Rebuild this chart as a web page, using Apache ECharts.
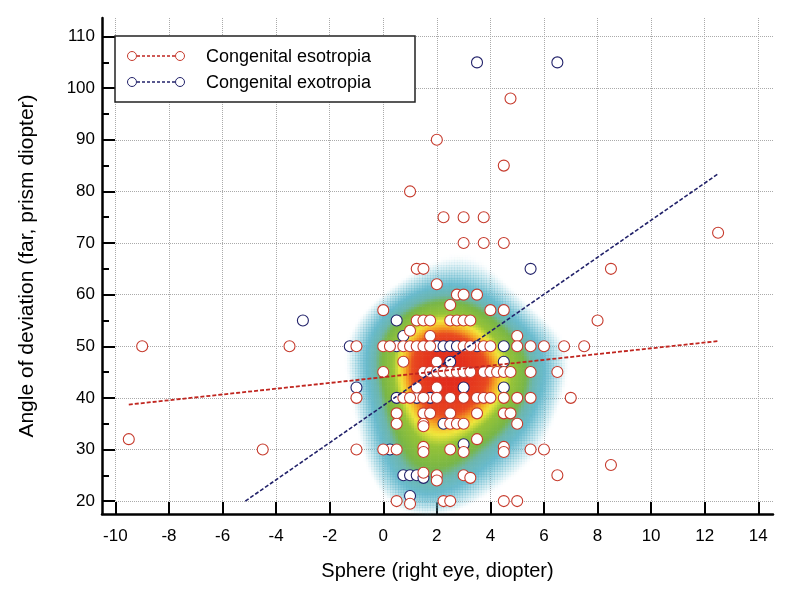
<!DOCTYPE html>
<html>
<head>
<meta charset="utf-8">
<script src="https://cdn.jsdelivr.net/npm/echarts@6/dist/echarts.min.js"></script>
<style>
  html, body { margin: 0; padding: 0; background: #fff; }
  #chart { width: 800px; height: 590px; }
</style>
</head>
<body>
<div id="chart"></div>
<script>
// congenital esotropia: [sphere, angle]
const esoPoints = [
  [4.75, 98], [2, 90], [4.5, 85], [1, 80], [2.25, 75], [3, 75], [3.75, 75],
  [3, 70], [3.75, 70], [4.5, 70], [12.5, 72], [1.25, 65], [1.5, 65], [8.5, 65],
  [2, 62], [2.75, 60], [3, 60], [3.5, 60], [2.5, 58], [0, 57], [4, 57], [4.5, 57], [8, 55],
  [1.25, 55], [1.5, 55], [1.75, 55], [2.5, 55], [2.75, 55], [3, 55], [3.25, 55],
  [1, 53], [1.75, 52], [5, 52],
  [-9, 50], [-3.5, 50], [-1, 50], [0, 50], [0.25, 50], [0.75, 50], [1, 50], [1.25, 50],
  [1.5, 50], [1.75, 50], [3, 50], [3.25, 50], [3.75, 50], [4, 50], [5, 50], [5.5, 50],
  [6, 50], [6.75, 50], [7.5, 50],
  [0.75, 47], [2, 47],
  [0, 45], [1.5, 45], [1.75, 45], [2, 45], [2.25, 45], [2.5, 45], [2.75, 45], [3, 45],
  [3.25, 45], [3.75, 45], [4, 45], [4.25, 45], [4.5, 45], [4.75, 45], [5.5, 45], [6.5, 45],
  [1.25, 42], [2, 42],
  [-1, 40], [0.75, 40], [1, 40], [1.5, 40], [2, 40], [2.5, 40], [3, 40], [3.5, 40],
  [3.75, 40], [4, 40], [4.5, 40], [5, 40], [5.5, 40], [7, 40],
  [0.5, 37], [1.5, 37], [1.75, 37], [2.5, 37], [3.5, 37], [4.5, 37], [4.75, 37],
  [0.5, 35], [1.5, 35], [1.5, 34.5], [2.5, 35], [2.75, 35], [3, 35], [5, 35],
  [-9.5, 32], [3.5, 32],
  [-4.5, 30], [-1, 30], [0, 30], [0.5, 30], [1.5, 30.5], [1.5, 29.5], [2.5, 30], [3, 29.5],
  [4.5, 30.5], [4.5, 29.5], [5.5, 30], [6, 30],
  [8.5, 27],
  [1.5, 25.5], [2, 25], [2, 24], [3, 25], [3.25, 24.5], [6.5, 25],
  [0.5, 20], [1, 19.5], [2.25, 20], [2.5, 20], [4.5, 20], [5, 20]
];
// congenital exotropia: [sphere, angle]
const exoPoints = [
  [3.5, 105], [6.5, 105], [5.5, 65], [-3, 55], [0.5, 55], [0.75, 52],
  [-1.25, 50], [0.5, 50], [2, 50], [2.25, 50], [2.5, 50], [2.75, 50], [3.5, 50], [4.5, 50],
  [2.5, 47], [4.5, 47], [-1, 42], [3, 42], [4.5, 42], [0.5, 40], [1.25, 40], [1.75, 40],
  [2.25, 35], [0.25, 30], [3, 31], [0.75, 25], [1, 25], [1.25, 25], [1.5, 24.5], [1, 21]
];
// fitted lines, endpoints
const esoFit = [[-9.5, 38.7], [12.5, 51.0]];
const exoFit = [[-5.15, 20], [12.5, 83.4]];

const xTicks = [-10, -8, -6, -4, -2, 0, 2, 4, 6, 8, 10, 12, 14];
const yTicks = [20, 30, 40, 50, 60, 70, 80, 90, 100, 110];
const yMinorTicks = [25, 35, 45, 55, 65, 75, 85, 95, 105];

const red = '#c63a2c';
const navy = '#22226a';
const font = '"Liberation Sans", Arial, sans-serif';

// kernel density of all points, drawn as a colour field
const allPoints = esoPoints.concat(exoPoints);
const cellW = 0.1, cellH = 0.5;
const bwX = 1.35, bwY = 6.5;
let densityCells = [];
let dMax = 0;
for (let x = -3.5; x <= 8.5; x += cellW) {
  for (let y = 12; y <= 72; y += cellH) {
    let s = 0;
    allPoints.forEach(p => {
      const dx = (p[0] - x) / bwX, dy = (p[1] - y) / bwY;
      s += Math.exp(-0.5 * (dx * dx + dy * dy));
    });
    if (s > dMax) dMax = s;
    densityCells.push([x, y, s]);
  }
}
densityCells = densityCells.map(c => [c[0], c[1], c[2] / dMax]);

// colour ramp for the density
const stops = [
  [0, [125, 198, 215, 0]],
  [0.23, [125, 198, 215, 0]],
  [0.38, [100, 184, 204, 0.95]],
  [0.47, [108, 182, 170, 1]],
  [0.53, [120, 182, 70, 1]],
  [0.65, [150, 195, 55, 1]],
  [0.72, [242, 232, 60, 1]],
  [0.78, [245, 165, 35, 1]],
  [0.84, [232, 72, 32, 1]],
  [1, [226, 42, 28, 1]]
];
const ramp = [];
for (let i = 0; i <= 60; i++) {
  const t = i / 60;
  let k = 0;
  while (k < stops.length - 2 && t > stops[k + 1][0]) k++;
  const a = stops[k], b = stops[k + 1];
  const f = (t - a[0]) / (b[0] - a[0]);
  const c = a[1].map((v, j) => v + (b[1][j] - v) * f);
  ramp.push('rgba(' + Math.round(c[0]) + ',' + Math.round(c[1]) + ',' + Math.round(c[2]) + ',' + c[3].toFixed(3) + ')');
}

const myChart = echarts.init(document.getElementById('chart'));
const option = {
  animation: false,
  grid: { left: 102, right: 27, top: 18, bottom: 76 },
  xAxis: {
    type: 'value',
    min: -10.5,
    max: 14.55,
    name: 'Sphere (right eye, diopter)',
    nameLocation: 'middle',
    nameGap: 47,
    nameTextStyle: { fontSize: 20, color: '#000', fontFamily: font },
    axisLine: { onZero: false, lineStyle: { color: '#000', width: 2.5 } },
    axisTick: { inside: true, length: 12, customValues: xTicks, lineStyle: { color: '#000', width: 2 } },
    axisLabel: { customValues: xTicks, margin: 14, fontSize: 17, color: '#000', fontFamily: font },
    splitLine: { show: true, lineStyle: { color: '#aaa', type: 'dotted', width: 1 } }
  },
  yAxis: [
    {
      type: 'value',
      min: 17.5,
      max: 113.6,
      name: 'Angle of deviation (far, prism diopter)',
      nameLocation: 'middle',
      nameGap: 64,
      nameTextStyle: { fontSize: 21, color: '#000', fontFamily: font },
      axisLine: { onZero: false, lineStyle: { color: '#000', width: 2.5 } },
      axisTick: { inside: true, length: 13, customValues: yTicks, lineStyle: { color: '#000', width: 2 } },
      axisLabel: { customValues: yTicks, margin: 7, fontSize: 17, color: '#000', fontFamily: font },
      splitLine: { show: true, lineStyle: { color: '#aaa', type: 'dotted', width: 1 } }
    },
    {
      type: 'value',
      position: 'left',
      min: 17.5,
      max: 113.6,
      axisLine: { show: false, onZero: false },
      axisTick: { inside: true, length: 7, customValues: yMinorTicks, lineStyle: { color: '#000', width: 2 } },
      axisLabel: { show: false },
      splitLine: { show: false }
    }
  ],
  visualMap: {
    show: false,
    type: 'continuous',
    seriesIndex: 0,
    dimension: 2,
    min: 0,
    max: 1,
    inRange: { color: ramp }
  },
  series: [
    {
      type: 'custom',
      clip: true,
      silent: true,
      z: 1,
      data: densityCells,
      renderItem: function (params, api) {
        const x = api.value(0), y = api.value(1);
        const p0 = api.coord([x - cellW / 2, y + cellH / 2]);
        const p1 = api.coord([x + cellW / 2, y - cellH / 2]);
        return {
          type: 'rect',
          shape: { x: p0[0], y: p0[1], width: p1[0] - p0[0] + 0.6, height: p1[1] - p0[1] + 0.6 },
          style: { fill: api.visual('color') }
        };
      }
    },
    {
      name: 'Congenital exotropia',
      type: 'scatter',
      z: 3,
      data: exoPoints,
      symbol: 'circle',
      symbolSize: 11,
      itemStyle: { color: '#fff', borderColor: navy, borderWidth: 1.1, opacity: 1 }
    },
    {
      name: 'Congenital esotropia',
      type: 'scatter',
      z: 3,
      data: esoPoints,
      symbol: 'circle',
      symbolSize: 11,
      itemStyle: { color: '#fff', borderColor: red, borderWidth: 1.1, opacity: 1 }
    },
    {
      type: 'line',
      z: 5,
      data: esoFit,
      symbol: 'none',
      lineStyle: { color: '#c0251f', width: 1.8, type: [4, 2] }
    },
    {
      type: 'line',
      z: 5,
      data: exoFit,
      symbol: 'none',
      lineStyle: { color: navy, width: 1.6, type: [4, 2] }
    }
  ],
  graphic: [
    { type: 'rect', z: 100, shape: { x: 115, y: 36, width: 300, height: 66 }, style: { fill: '#fff', stroke: '#222', lineWidth: 1.5 } },
    { type: 'line', z: 101, shape: { x1: 132, y1: 56, x2: 180, y2: 56 }, style: { stroke: '#c0251f', lineWidth: 1.5, lineDash: [3, 2] } },
    { type: 'circle', z: 102, shape: { cx: 132, cy: 56, r: 4.5 }, style: { fill: '#fff', stroke: red, lineWidth: 1 } },
    { type: 'circle', z: 102, shape: { cx: 180, cy: 56, r: 4.5 }, style: { fill: '#fff', stroke: red, lineWidth: 1 } },
    { type: 'text', z: 102, style: { x: 206, y: 57, text: 'Congenital esotropia', fontSize: 18, fontFamily: font, fill: '#000', verticalAlign: 'middle' } },
    { type: 'line', z: 101, shape: { x1: 132, y1: 82, x2: 180, y2: 82 }, style: { stroke: navy, lineWidth: 1.5, lineDash: [3, 2] } },
    { type: 'circle', z: 102, shape: { cx: 132, cy: 82, r: 4.5 }, style: { fill: '#fff', stroke: navy, lineWidth: 1 } },
    { type: 'circle', z: 102, shape: { cx: 180, cy: 82, r: 4.5 }, style: { fill: '#fff', stroke: navy, lineWidth: 1 } },
    { type: 'text', z: 102, style: { x: 206, y: 83, text: 'Congenital exotropia', fontSize: 18, fontFamily: font, fill: '#000', verticalAlign: 'middle' } }
  ]
};
myChart.setOption(option);
</script>
</body>
</html>
